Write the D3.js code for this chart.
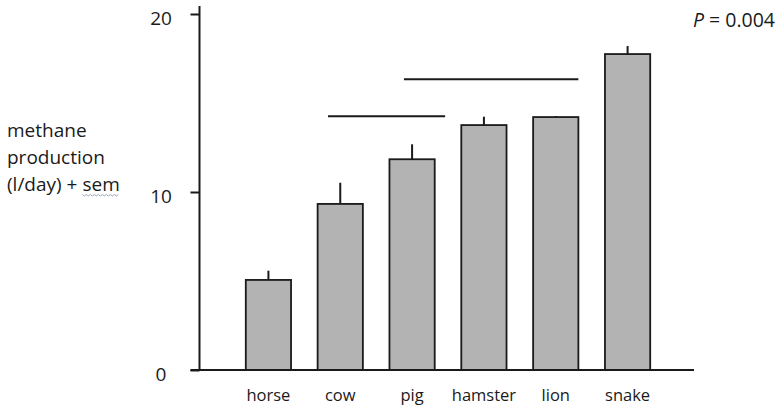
<!DOCTYPE html>
<html lang="en">
<head>
  <meta charset="UTF-8">
  <title>methane production</title>
  <style type="text/css">
       body{
          margin:0;
          background:#fff;
       }
       text{ font-family:"Open Sans", sans-serif; fill:#1a1a1a; }
  </style>
  <script src="https://d3js.org/d3.v7.min.js"></script>
</head>
<body>
   <svg></svg>
   <script>
          const width = 778;
          const height = 408;

          // data
          const animals = ["horse","cow","pig","hamster","lion","snake"];
          const methane = [5.06, 9.33, 11.84, 13.76, 14.21, 17.75];
          const sem = [0.52, 1.19, 0.84, 0.47, 0.06, 0.45];
          const yTicks = [0, 10, 20];
          const sigFrom = ["cow","pig"];
          const sigTo = ["pig","lion"];
          const sigLevel = [14.25, 16.33];
          const pLabel = "0.004";
          const yLabel = ["methane","production","(l/day) + sem"];

          const axisX = 199.5;
          const sigInset = [[0.23, 1.23],[0.32, 1.0]];

          const svg = d3.select("svg")
                       .attr("width",width)
                       .attr("height",height);

          //define Scale
          const xScale = d3.scaleBand()
                  .domain(animals)
                  .range([232.5, 663.5])
                  .paddingInner(0.37)
                  .paddingOuter(0.185);

          const yScale = d3.scaleLinear()
                  .domain([0,20])
                  .range([370,14]);

          const ink = "#1a1a1a";

          // y axis
          const yAxis = d3.axisLeft(yScale)
                   .tickValues(yTicks)
                   .tickSize(9)
                   .tickSizeOuter(0)
                   .tickFormat(d3.format("d"));

          const yG = svg.append("g")
             .attr("transform",`translate(${axisX},0)`)
             .call(yAxis);
          yG.select(".domain").remove();
          yG.selectAll(".tick line").attr("stroke",ink).attr("stroke-width",2);
          yG.selectAll(".tick text")
             .attr("x",-38.5)
             .attr("dy","0.57em")
             .attr("text-anchor","middle")
             .style("font-size","19px")
             .style("font-family","'Open Sans', sans-serif")
             .attr("fill",ink);

          svg.append("line")
             .attr("x1",axisX).attr("x2",axisX)
             .attr("y1",yScale(0)).attr("y2",yScale(20.45))
             .attr("stroke",ink).attr("stroke-width",2);

          // bars
          svg.append("g").selectAll("rect")
             .data(animals)
             .join("rect")
              .attr("x",d => xScale(d))
              .attr("y",(d,i) => yScale(methane[i]))
              .attr("width",xScale.bandwidth())
              .attr("height",(d,i) => yScale(0) - yScale(methane[i]))
              .attr("fill","#b3b3b3")
              .attr("stroke",ink)
              .attr("stroke-width",1.8);

          // error bars (+ sem only)
          svg.append("g").selectAll("line")
             .data(animals)
             .join("line")
              .attr("x1",d => xScale(d) + xScale.bandwidth()/2)
              .attr("x2",d => xScale(d) + xScale.bandwidth()/2)
              .attr("y1",(d,i) => yScale(methane[i]))
              .attr("y2",(d,i) => yScale(methane[i] + sem[i]))
              .attr("stroke",ink)
              .attr("stroke-width",2);

          // baseline
          svg.append("line")
             .attr("x1",axisX - 9).attr("x2",694)
             .attr("y1",yScale(0)).attr("y2",yScale(0))
             .attr("stroke",ink).attr("stroke-width",2);

          // x labels
          const xAxis = d3.axisBottom(xScale).tickSize(0);
          const xG = svg.append("g")
             .attr("transform",`translate(0,${yScale(0)})`)
             .call(xAxis);
          xG.select(".domain").remove();
          xG.selectAll(".tick text")
             .attr("y",30.5)
             .attr("dy",0)
             .style("font-size","16.5px")
             .style("font-family","'Open Sans', sans-serif")
             .attr("fill",ink);

          // significance lines
          svg.append("g").selectAll("line")
             .data(sigLevel)
             .join("line")
              .attr("x1",(d,i) => xScale(sigFrom[i]) + sigInset[i][0]*xScale.bandwidth())
              .attr("x2",(d,i) => xScale(sigTo[i]) + sigInset[i][1]*xScale.bandwidth())
              .attr("y1",d => yScale(d))
              .attr("y2",d => yScale(d))
              .attr("stroke",ink)
              .attr("stroke-width",2);

          // P value
          const pText = svg.append("text")
             .attr("x",775).attr("y",27.3)
             .attr("text-anchor","end")
             .style("font-size","19.5px");
          pText.append("tspan").attr("font-style","italic").text("P");
          pText.append("tspan").text(" = " + pLabel);

          // y label
          const lab = svg.append("text")
             .style("font-size","19px");
          lab.selectAll("tspan")
             .data(yLabel)
             .join("tspan")
              .attr("x",7)
              .attr("y",(d,i) => 137 + i*27)
              .text(d => d);

          // spell-check squiggle under "sem"
          const last = lab.selectAll("tspan").nodes()[2];
          const s = yLabel[2].indexOf("sem");
          const sx0 = last.getStartPositionOfChar(s).x;
          const sx1 = last.getEndPositionOfChar(s + 2).x;
          const wave = d3.range(sx0, sx1, 2).map((x,i) => [x, 137 + 2*27 + 3.5 + (i % 2 ? 1.5 : 0)]);
          svg.append("path")
             .attr("d",d3.line()(wave))
             .attr("fill","none")
             .attr("stroke","#8c9ab0")
             .attr("stroke-width",0.9);
   </script>
</body>
</html>
